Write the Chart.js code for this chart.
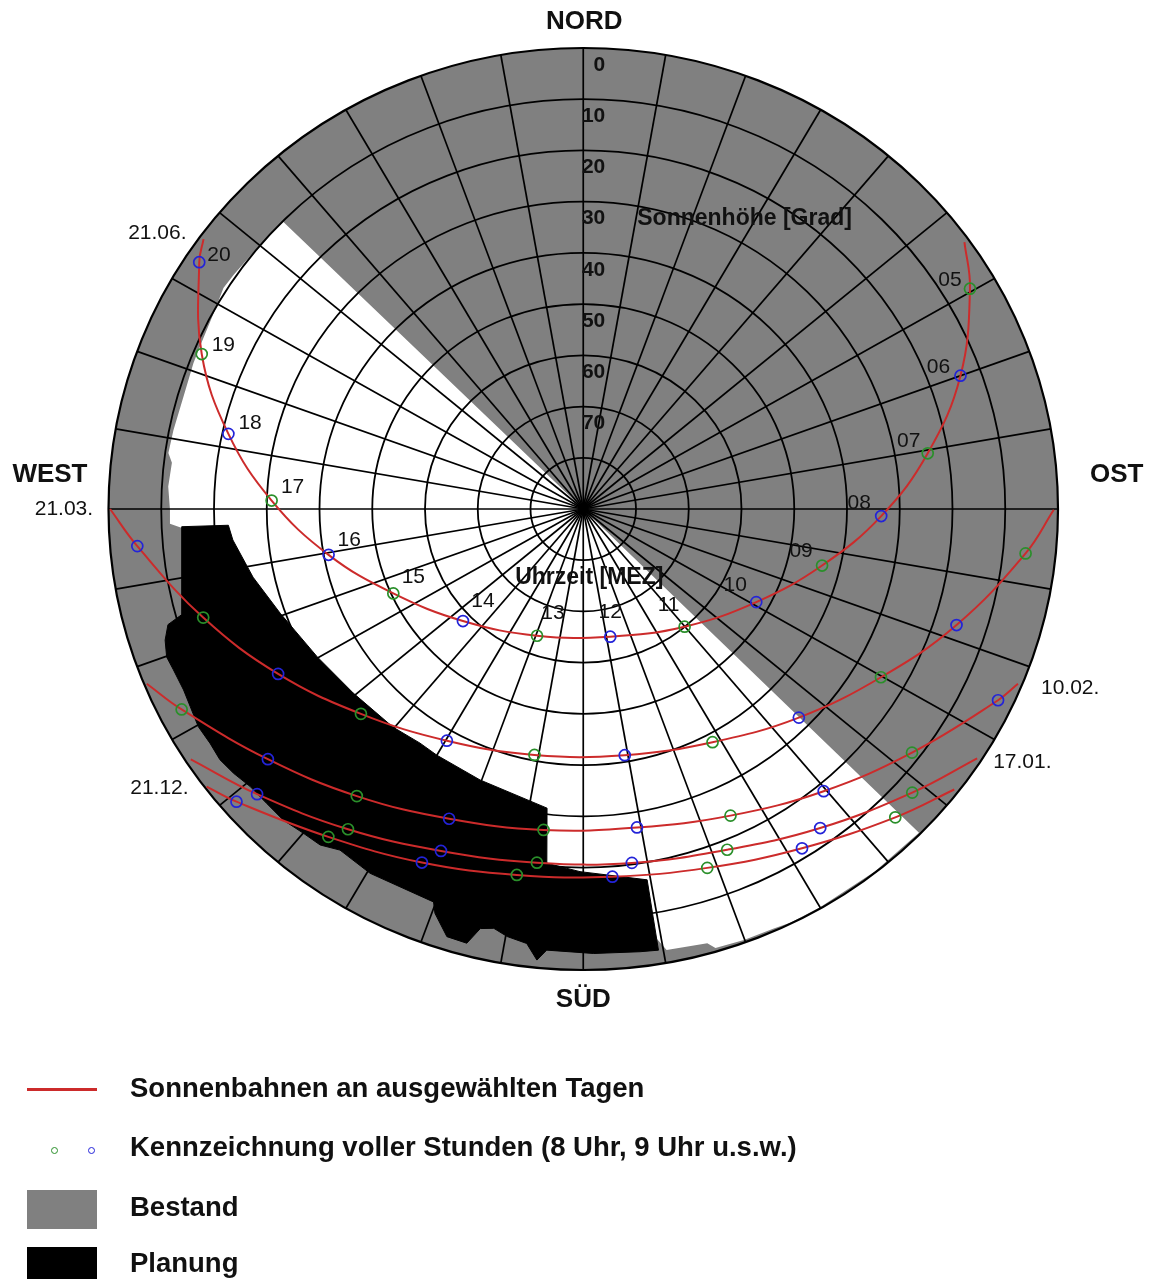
<!DOCTYPE html>
<html><head><meta charset="utf-8">
<script src="https://cdn.jsdelivr.net/npm/chart.js@4.4.1/dist/chart.umd.min.js"></script>
<style>
html,body{margin:0;padding:0;background:#fff;}
#wrap{position:relative;width:1155px;height:1279px;overflow:hidden;font-family:"Liberation Sans",Arial,sans-serif;}
#c{position:absolute;left:0;top:0;}
.lg{position:absolute;left:130px;font-weight:bold;font-size:27.5px;color:#111;line-height:30px;white-space:nowrap;}
.sw{position:absolute;}
</style></head><body>
<div id="wrap">
<canvas id="c" width="1155" height="1279"></canvas>
<div class="sw" style="left:27px;top:1088px;width:70px;height:3px;background:#cc2b2b"></div>
<div class="lg" style="top:1073px">Sonnenbahnen an ausgewählten Tagen</div>
<div class="sw" style="left:51px;top:1147px;width:5px;height:5px;border:1.3px solid #2a8f2a;border-radius:50%"></div>
<div class="sw" style="left:88px;top:1147px;width:5px;height:5px;border:1.3px solid #2323d8;border-radius:50%"></div>
<div class="lg" style="top:1132px">Kennzeichnung voller Stunden (8 Uhr, 9 Uhr u.s.w.)</div>
<div class="sw" style="left:27px;top:1190px;width:70px;height:39px;background:#808080"></div>
<div class="lg" style="top:1192px">Bestand</div>
<div class="sw" style="left:27px;top:1247px;width:70px;height:32px;background:#000"></div>
<div class="lg" style="top:1248px">Planung</div>
</div>
<script>
// ---------- grid ticks ----------
const altitudeCircles = [0, 10, 20, 30, 40, 50, 60, 70, 80];
const altitudeTickLabels = [0, 10, 20, 30, 40, 50, 60, 70];
const spokeAzimuths = [0,10,20,30,40,50,60,70,80,90,100,110,120,130,140,150,160,170,180,190,200,210,220,230,240,250,260,270,280,290,300,310,320,330,340,350];

// ---------- sun paths (azimuth deg from north, altitude deg) ----------
const pathDates = ['21.06.', '21.03.', '10.02.', '17.01.', '21.12.'];

const hours2106 = [null,5,6,7,8,9,10,11,12,13,14,15,16,17,18,19,20,null];
const az2106  = [54.2,59.6,70.0,80.55,91.4,103.7,119.0,140.1,168.4,199.5,226.2,245.4,259.5,271.6,282.3,292.7,303.5,306.2];
const alt2106 = [0.9,5.0,13.9,23.8,33.5,43.4,52.5,60.05,64.55,63.75,58.4,50.4,40.9,30.9,21.15,11.6,2.7,0.8];

const hours2103 = [null,7,8,9,10,11,12,13,14,15,16,17,18,null];
const az2103  = [90.1,95.9,107.75,120.2,134.9,151.7,170.7,190.9,209.75,226.5,240.9,253.6,265.1,270.0];
const alt2103 = [0.8,5.7,15.7,24.7,32.3,38.3,41.3,41.1,37.9,31.9,23.8,14.9,5.15,0.3];

const hours1002 = [null,8,9,10,11,12,13,14,15,16,17,null];
const az1002  = [112.5,115.4,127.35,140.4,155.0,170.7,186.85,202.8,217.45,230.75,242.8,247.6];
const alt1002 = [0.8,2.95,11.6,18.5,23.95,27.0,26.9,24.4,19.4,12.8,4.4,0.5];

const hours1701 = [null,9,10,11,12,13,14,15,16,null];
const az1701  = [123.1,131.6,144.2,157.7,172.4,187.25,202.0,215.5,228.0,236.7];
const alt1701 = [0.86,6.6,13.2,18.1,20.3,20.4,18.0,13.2,6.8,0.98];

const hours2112 = [null,9,10,11,12,13,14,15,16,null];
const az2112  = [127.9,135.5,147.95,161.45,175.6,190.0,203.9,217.05,229.0,232.8];
const alt2112 = [0.86,5.6,11.85,16.1,18.0,17.45,14.5,9.8,2.9,0.36];

// ---------- free sky outline (everything else is "Bestand") ----------
const skyAz  = [0,134.8,142,150,154,156.2,160.1,163.7,164.5,169.6,171.8,179.0,189.1,202.2,214.1,225.5,238.7,249.9,260.8,267.2,267.9,269.9,273.2,276.6,277.9,281.2,286.1,291.1,293.6,299.1,302.3,304.6,310.1,314.6,0];
const skyAlt = [90,0.3,0.2,0.2,0.2,0.5,0.5,0.7,2.0,2.45,7.9,10.7,14.7,18.1,21.4,20.1,18.3,15.7,15.4,13.85,11.6,11.65,11.2,11.5,10.6,10.8,11.1,10.8,10.7,10.1,9.3,9.5,9.9,10.1,90];

// ---------- "Planung" outline ----------
const planAz  = [267.4,267.3,264.8,258.0,250.5,240.2,230.5,220.3,214.1,210.0,200.3,186.7,185.7,180.5,170.5,170.6,172.9,178.7,184.6,185.7,187.2,189.8,191.7,193.4,194.6,197.2,199.6,200.3,209.6,214.7,217.25,220.0,223.1,226.2,229.35,232.1,234.6,237.1,239.8,242.6,245.0,248.0,249.9,252.1,254.0,254.8,267.4];
const planAlt = [13.8,22.65,23.3,26.0,29.05,31.9,33.5,34.2,34.8,34.5,33.6,31.2,20.5,19.2,16.6,2.7,2.9,3.2,3.6,1.5,4.5,5.3,6.4,5.8,2.4,2.6,6.2,8.2,8.2,9.0,7.6,7.4,6.8,6.9,6.8,6.0,5.5,5.75,5.55,6.1,6.4,6.2,5.9,6.7,8.1,11.0,13.8];

// ---------- layout / style (not data) ----------
const COL = {gray:'#808080', red:'#cc2b2b', green:'#2a8f2a', blue:'#2323d8', text:'#111'};
const FONT = '"Liberation Sans", Arial, sans-serif';
const hourLabelOffset = {5:[-20,-8],6:[-22,-8.5],7:[-19,-12],8:[-22,-13],9:[-21,-14],10:[-21,-17],11:[-16,-21],12:[0,-24],13:[16,-23],14:[20,-20],15:[20,-16],16:[20.7,-14.2],17:[21,-13],18:[21.7,-10.2],19:[21.6,-9],20:[19.7,-6.6]};
const dateLabelLayout = [
  {end:'last', align:'right', dx:-17, dy:-6},
  {end:'last', align:'right', dx:-17, dy:0},
  {end:'first', align:'left', dx:23, dy:4},
  {end:'first', align:'left', dx:16, dy:4},
  {end:'last', align:'right', dx:-18, dy:2}
];

function toXY(az, alt) {
  const zd = 90 - alt, r = az * Math.PI / 180;
  return {x: zd * Math.sin(r), y: zd * Math.cos(r)};
}
function pts(azs, alts, hours) {
  return azs.map((a, i) => Object.assign(toXY(a, alts[i]), {h: hours ? hours[i] : null}));
}

const paths = [
  [hours2106, az2106, alt2106],
  [hours2103, az2103, alt2103],
  [hours1002, az1002, alt1002],
  [hours1701, az1701, alt1701],
  [hours2112, az2112, alt2112]
];

const datasets = [
  {label:'sky', data: pts(skyAz, skyAlt), showLine:true, fill:'shape', backgroundColor:'#ffffff', borderColor:'rgba(0,0,0,0)', borderWidth:0, pointRadius:0, tension:0, order:20},
  {label:'Planung', data: pts(planAz, planAlt), showLine:true, fill:'shape', backgroundColor:'#000000', borderColor:'#000000', borderWidth:1, pointRadius:0, tension:0, order:10}
];
paths.forEach((p, k) => {
  datasets.push({
    label: pathDates[k],
    data: pts(p[1], p[2], p[0]),
    showLine: true, fill: false, tension: 0.4,
    borderColor: COL.red, borderWidth: 2,
    pointRadius: c => (c.raw && c.raw.h != null) ? 5.5 : 0,
    pointBorderColor: c => (c.raw && c.raw.h % 2 === 0) ? COL.blue : COL.green,
    pointBackgroundColor: 'rgba(0,0,0,0)',
    pointBorderWidth: 1.7,
    order: 0, clip: false
  });
});

function geo(chart) {
  const x = chart.scales.x, y = chart.scales.y;
  const cx = x.getPixelForValue(0), cy = y.getPixelForValue(0);
  return {x, y, cx, cy, rx: x.getPixelForValue(90) - cx, ry: cy - y.getPixelForValue(90)};
}

function drawGrid(chart) {
  const ctx = chart.ctx, g = geo(chart);
  ctx.save();
  ctx.strokeStyle = '#000';
  ctx.lineWidth = 1.7;
  for (const az of spokeAzimuths) {
    const p = toXY(az, 0);
    ctx.beginPath();
    ctx.moveTo(g.cx, g.cy);
    ctx.lineTo(g.x.getPixelForValue(p.x), g.y.getPixelForValue(p.y));
    ctx.stroke();
  }
  for (const alt of altitudeCircles) {
    const zd = 90 - alt;
    const rx = g.x.getPixelForValue(zd) - g.cx, ry = g.cy - g.y.getPixelForValue(zd);
    ctx.lineWidth = alt === 0 ? 2.2 : 1.8;
    ctx.beginPath();
    ctx.ellipse(g.cx, g.cy, rx, ry, 0, 0, Math.PI * 2);
    ctx.stroke();
  }
  ctx.restore();
}

function drawLabels(chart) {
  const ctx = chart.ctx, g = geo(chart);
  const top = g.y.getPixelForValue(90), bottom = g.y.getPixelForValue(-90);
  const left = g.x.getPixelForValue(-90), right = g.x.getPixelForValue(90);
  ctx.save();
  ctx.fillStyle = COL.text;
  ctx.textBaseline = 'middle';
  // altitude ticks
  ctx.font = 'bold 21px ' + FONT;
  ctx.textAlign = 'right';
  for (const alt of altitudeTickLabels) {
    ctx.fillText(String(alt), g.cx + 22, g.y.getPixelForValue(90 - alt) + 17);
  }
  ctx.font = 'bold 23px ' + FONT;
  ctx.textAlign = 'left';
  ctx.fillText('Sonnenhöhe [Grad]', g.cx + 54, g.y.getPixelForValue(60) + 17);
  ctx.textAlign = 'center';
  ctx.fillText('Uhrzeit [MEZ]', g.cx + 6, g.cy + 69);
  // compass
  ctx.font = 'bold 26px ' + FONT;
  ctx.textAlign = 'center';
  ctx.fillText('NORD', g.cx + 1, top - 26);
  ctx.fillText('SÜD', g.cx, bottom + 30);
  ctx.textAlign = 'right';
  ctx.fillText('WEST', left - 21, g.cy - 34);
  ctx.textAlign = 'left';
  ctx.fillText('OST', right + 32, g.cy - 34);
  // hour labels along 21.06.
  ctx.font = '21px ' + FONT;
  ctx.textAlign = 'center';
  const meta = chart.getDatasetMeta(2);
  meta.data.forEach((el, i) => {
    const h = hours2106[i];
    if (h == null) return;
    const o = hourLabelOffset[h];
    ctx.fillText((h < 10 ? '0' : '') + h, el.x + o[0], el.y + o[1]);
  });
  // date labels
  pathDates.forEach((d, k) => {
    const m = chart.getDatasetMeta(2 + k);
    const L = dateLabelLayout[k];
    const el = L.end === 'last' ? m.data[m.data.length - 1] : m.data[0];
    ctx.textAlign = L.align;
    ctx.fillText(d, el.x + L.dx, el.y + L.dy);
  });
  ctx.restore();
}

const polarPlugin = {
  id: 'polarGrid',
  beforeDatasetsDraw(chart) {
    const ctx = chart.ctx, g = geo(chart);
    ctx.save();
    ctx.fillStyle = COL.gray;
    ctx.beginPath();
    ctx.ellipse(g.cx, g.cy, g.rx, g.ry, 0, 0, Math.PI * 2);
    ctx.fill();
    ctx.restore();
  },
  afterDatasetDraw(chart, args) {
    if (args.index === 0) drawGrid(chart);
  },
  afterDatasetsDraw(chart) { drawLabels(chart); }
};

new Chart(document.getElementById('c'), {
  type: 'scatter',
  data: {datasets},
  options: {
    responsive: false,
    devicePixelRatio: 1,
    animation: false,
    events: [],
    layout: {padding: {left: 108.5, right: 97, top: 48, bottom: 309}},
    scales: {
      x: {type: 'linear', min: -90, max: 90, display: false},
      y: {type: 'linear', min: -90, max: 90, display: false}
    },
    plugins: {legend: {display: false}, tooltip: {enabled: false}, title: {display: false}}
  },
  plugins: [polarPlugin]
});
</script>
</body></html>
